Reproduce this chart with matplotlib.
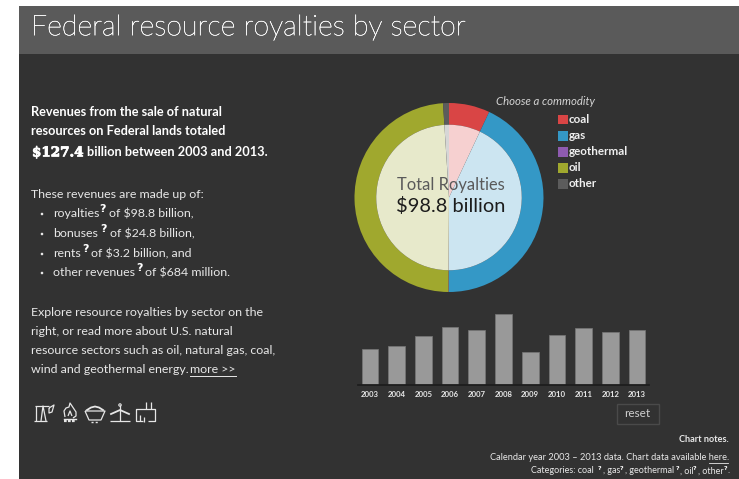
import matplotlib
matplotlib.use('Agg')
import matplotlib.pyplot as plt
import matplotlib.patheffects as pe
from matplotlib.patches import Rectangle, Circle

W, H = 739, 479
BG = '#323232'
BAND = '#5a5a5a'
LIGHT = '#e8e8e8'

commodities = ['coal', 'gas', 'geothermal', 'oil', 'other']
royalties = [6.9, 42.5, 0.1, 48.3, 1.0]
colors = ['#d94545', '#3498c6', '#8e5bb0', '#a0a82e', '#5c5c5c']
inner_colors = ['#f6d0d0', '#cce5f1', '#e3d6ec', '#e7e9cb', '#d6d6d6']

years = ['2003', '2004', '2005', '2006', '2007', '2008', '2009', '2010', '2011', '2012', '2013']
yearly = [6.4, 7.0, 8.7, 10.3, 9.8, 12.6, 5.8, 8.8, 10.1, 9.4, 9.8]

plt.rcParams['font.family'] = ['Lato', 'DejaVu Sans']

fig = plt.figure(figsize=(W / 100, H / 100), dpi=100, facecolor='white')


def px_axes(x0, y0, x1, y1):
    # pixel box measured from the top left of the picture
    return fig.add_axes([x0 / W, 1 - y1 / H, (x1 - x0) / W, (y1 - y0) / H])


# page background and text layer, in picture pixels
page = px_axes(0, 0, W, H)
page.set_xlim(0, W)
page.set_ylim(H, 0)
page.axis('off')
page.add_patch(Rectangle((19, 6), 720, 473, fc=BG, ec='none'))
page.add_patch(Rectangle((19, 6), 720, 48, fc=BAND, ec='none'))


def txt(x, y, s, size=8.9, color=LIGHT, **kw):
    # y is the middle of the line, the text hangs on a baseline so rows stay level
    return page.text(x, y + size * 0.45, s, fontsize=size, color=color, va='baseline',
                     parse_math=False, **kw)


def qmark(x, y, size=8.5):
    txt(x, y, '?', size=size, color='white', fontweight='bold', family=['DejaVu Sans'])


txt(31, 26, 'Federal resource royalties by sector', size=20.6, color='white', fontweight='light',
    path_effects=[pe.withStroke(linewidth=0.3, foreground='white')])

txt(31, 112, 'Revenues from the sale of natural', fontweight='bold', color='white', size=9.15)
txt(31, 131, 'resources on Federal lands totaled', fontweight='bold', color='white', size=9.15)
txt(32, 152, '$127.4', family=['DejaVu Serif'], fontweight='bold', color='white', size=9.7,
    path_effects=[pe.withStroke(linewidth=0.6, foreground='white')])
txt(87, 152, 'billion between 2003 and 2013.', fontweight='bold', color='white', size=9.15)

txt(31, 194, 'These revenues are made up of:')
rows = [(213, 'royalties', 99.5, 109, 'of $98.8 billion,'),
        (233, 'bonuses', 100.5, 110, 'of $24.8 billion,'),
        (253, 'rents', 82.5, 91, 'of $3.2 billion, and'),
        (272, 'other revenues', 136.5, 145, 'of $684 million.')]
for y, word, qx, tx, rest in rows:
    page.add_patch(Circle((42, y + 1), 1.3, fc=LIGHT, ec='none'))
    txt(53, y, word)
    qmark(qx, y - 5, size=8)
    txt(tx, y, rest)

txt(31, 312, 'Explore resource royalties by sector on the')
txt(31, 331, 'right, or read more about U.S. natural')
txt(31, 350, 'resource sectors such as oil, natural gas, coal,')
txt(31, 369, 'wind and geothermal energy.')
txt(190, 369, 'more >>')
page.plot([190, 236], [375.5, 375.5], color=LIGHT, lw=0.7)

# little sector icons
icon = dict(color='#e6e6e6', lw=0.9, solid_capstyle='butt')
# pump jack
page.plot([34, 47], [421, 421], **icon)
page.plot([35, 49], [406, 406], **icon)
page.plot([36, 36], [406, 421], **icon)
page.plot([41, 43, 46], [421, 406, 421], **icon)
page.plot([49, 54, 52, 49, 49], [408, 405, 412, 413, 408], **icon)
# flame
page.plot([65, 64, 66, 69, 70, 74, 76, 76, 73], [417, 411, 408, 407, 403, 409, 412, 416, 418], **icon)
page.plot([68, 70, 72], [416, 411, 416], **icon)
page.plot([64, 76], [418.5, 418.5], color='#e6e6e6', lw=1.0)
page.plot([64, 76], [421, 421], color='#e6e6e6', lw=1.6, ls=(0, (1.2, 0.6)))
# coal cart
page.plot([85, 105, 101, 89, 85], [411, 411, 420, 420, 411], **icon)
page.plot([87, 91, 95, 99, 103], [410, 407.5, 406.5, 407.5, 410], color='#e6e6e6', lw=1.3)
page.plot([91, 99], [421.5, 421.5], color='#e6e6e6', lw=1.0, ls=(0, (1.5, 1.5)))
# wind turbine
page.plot([110, 130], [421, 421], **icon)
page.plot([120, 120], [405, 421], **icon)
page.add_patch(Circle((120, 405), 1.2, fc='none', ec='#e6e6e6', lw=0.8))
page.plot([111, 120, 129], [414, 410, 414], color='#e6e6e6', lw=1.3)
# geothermal plant
page.plot([143, 136, 136, 155, 155, 148], [421, 421, 409, 409, 421, 421], **icon)
page.plot([146, 146], [402, 409], **icon)
page.plot([151, 151], [402, 409], **icon)
page.plot([140, 140], [415, 421], **icon)
page.plot([144, 144], [417, 422], **icon)

# donut: outer ring and paler inner pie, same values
cx, cy, r_out = 449, 197.5, 94.5
ax_pie = px_axes(cx - r_out, cy - r_out, cx + r_out, cy + r_out)
ax_pie.pie(royalties, colors=colors, radius=1.0, startangle=90, counterclock=False,
           wedgeprops=dict(width=0.23, linewidth=0))
ax_pie.pie(royalties, colors=inner_colors, radius=0.77, startangle=90, counterclock=False,
           wedgeprops=dict(linewidth=0))
ax_pie.set_xlim(-1, 1)
ax_pie.set_ylim(-1, 1)
ax_pie.set_zorder(2)
ax_pie.patch.set_alpha(0)

# legend
txt(545, 101, 'Choose a commodity', size=8.2, color='#d4d4d4', style='italic', ha='center')
leg_y = [119, 135.5, 151.5, 167.5, 183.5]
for name, c, y in zip(commodities, colors, leg_y):
    page.add_patch(Rectangle((558, y - 4.5), 10, 9.5, fc=c, ec='none'))
    txt(569, y, name, size=8.4, color='#f0f0f0', fontweight='bold')

# yearly bars
ax_bar = px_axes(358, 310, 649, 385)
ax_bar.bar(range(len(years)), yearly, width=0.625, color='#999999', edgecolor='#777777', linewidth=0.5)
ax_bar.set_xlim(-0.45, 10.45)
ax_bar.set_ylim(0, 13.3)
ax_bar.patch.set_alpha(0)
for s in ['top', 'left', 'right']:
    ax_bar.spines[s].set_visible(False)
ax_bar.spines['bottom'].set_color('#1e1e1e')
ax_bar.spines['bottom'].set_linewidth(1.3)
ax_bar.set_yticks([])
ax_bar.set_xticks(range(len(years)))
ax_bar.set_xticklabels(years, fontsize=5.6, color='#e8e8e8', fontweight='bold')
ax_bar.tick_params(axis='x', length=0, pad=4.5)

# text in the middle of the donut sits over the pie axes
fig.text(450.5 / W, 1 - 190 / H, 'Total Royalties', fontsize=11.9, color='#5a5a5a', ha='center',
         va='baseline', zorder=5)
fig.text(450.5 / W, 1 - 212 / H, '$98.8 billion', fontsize=14.4, color='#1c1c1c', ha='center',
         va='baseline', parse_math=False, zorder=5)

# reset button and notes
page.add_patch(Rectangle((616.5, 403.5), 42, 20, fc='none', ec='#4a4a4a', lw=1))
txt(637, 413.5, 'reset', size=8.5, color='#cfcfcf', ha='center')
txt(729, 439.5, 'Chart notes.', size=6.6, color='#e8e8e8', ha='right', fontweight='bold')
txt(729, 457, 'Calendar year 2003 – 2013 data. Chart data available here.', size=6.65, ha='right')
page.plot([709, 728], [462.5, 462.5], color=LIGHT, lw=0.6)
pieces = [(531, 'Categories: coal'), (603, ', gas'), (625, ', geothermal'), (680.5, ', oil'),
          (697.5, ', other'), (727.6, '.')]
for x, s in pieces:
    txt(x, 470.5, s, size=6.5)
for x in [597.3, 620, 675.5, 692.7, 723.3]:
    qmark(x, 467.5, size=4.6)

fig.savefig('out.png', dpi=100, facecolor='white')
